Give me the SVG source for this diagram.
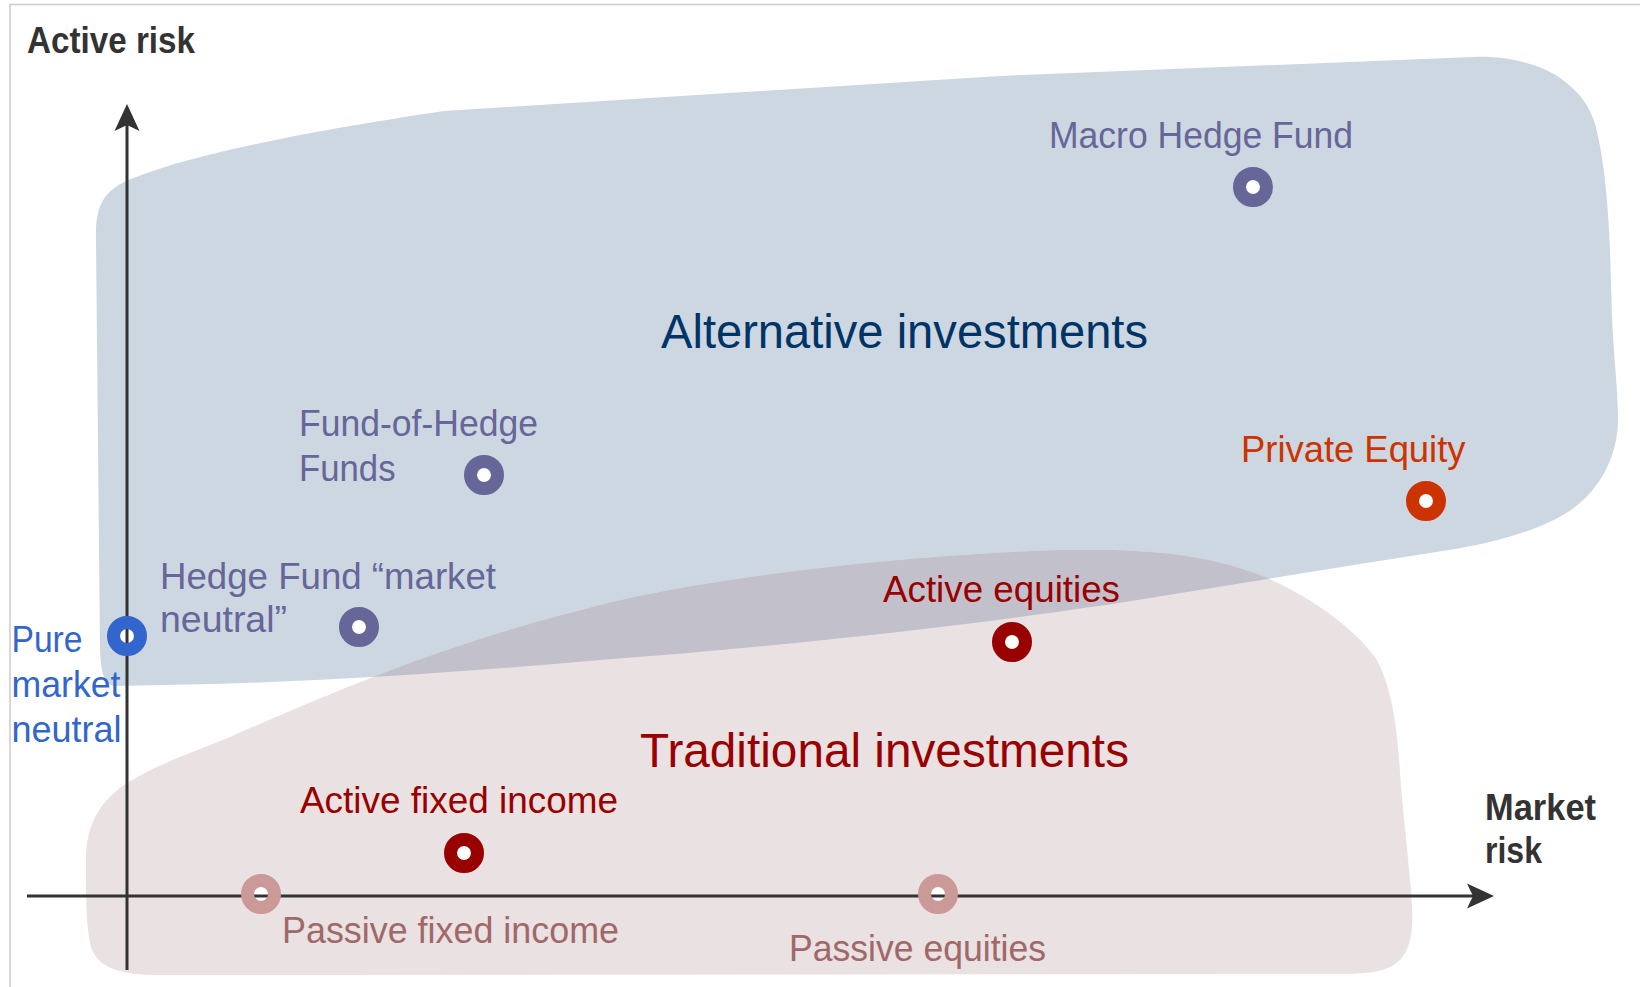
<svg xmlns="http://www.w3.org/2000/svg" xmlns:xlink="http://www.w3.org/1999/xlink" width="1640" height="987" viewBox="0 0 1640 987">
  <style>
    text { font-family: "Liberation Sans Narrow", "Liberation Sans", Arial, sans-serif; }
    .axis-title { font-size: 36px; font-weight: bold; fill: #333333; }
    .lbl { font-size: 37px; }
    .big { font-size: 48px; }
    .purple { fill: #666699; }
    .navy { fill: #003366; }
    .red { fill: #990000; }
    .orange { fill: #cc3300; }
    .blue { fill: #3366cc; }
    .passive { fill: #a06868; }
    .axis { stroke: #333333; stroke-width: 3; fill: none; }
    .head { fill: #333333; }
    .hole { fill: #ffffff; }
    .ring { fill: none; stroke-width: 13; }
  </style>
  <defs>
    <path id="alt-shape" d="M 96,240 C 95,205 104,192 126,181 C 175,160 270,137 444,111 L 1000,76 L 1473,57 C 1510,55 1545,66 1563,80 C 1580,93 1590,106 1596,127 C 1605,165 1608,205 1610,250 L 1612,317 C 1614,360 1618,390 1618,420 C 1618,455 1600,490 1571,510 C 1545,528 1500,542 1449,550 L 1360,564 L 1150,598 C 1000,622 800,645 600,660 C 450,673 300,684 115,686 C 103,684 101,670 100,650 Z"/>
    <path id="trad-shape" d="M 86,860 C 86,828 97,803 127,783 C 165,760 200,750 230,737 C 280,715 320,698 358,683 C 440,650 520,625 600,605 C 700,580 880,556 1060,550 C 1150,548 1205,555 1255,573 C 1305,592 1355,628 1377,660 C 1395,695 1398,740 1401,787 L 1410,880 C 1414,920 1414,945 1400,960 C 1388,972 1370,973 1350,974 L 160,975 C 120,975 100,968 92,950 C 86,930 86,900 86,860 Z"/>
    <clipPath id="trad-clip"><use xlink:href="#trad-shape"/></clipPath>
  </defs>

  <rect width="1640" height="987" fill="#ffffff"/>
  <path d="M 10,987 L 10,4.5 L 1640,4.5" fill="none" stroke="#cccccc" stroke-width="1.5"/>

  <!-- region blobs -->
  <g id="alternative-investments">
    <use xlink:href="#alt-shape" fill="#cdd7e1"/>
  </g>
  <g id="traditional-investments">
    <use xlink:href="#trad-shape" fill="#eae1e2"/>
    <use xlink:href="#alt-shape" fill="#c2c1cb" clip-path="url(#trad-clip)"/>
  </g>

  <!-- white centres of the markers sit under the axes -->
  <g id="marker-holes">
    <circle class="hole" cx="1253" cy="187" r="7"/>
    <circle class="hole" cx="484" cy="475" r="7"/>
    <circle class="hole" cx="359" cy="627" r="7"/>
    <circle class="hole" cx="127" cy="636" r="7"/>
    <circle class="hole" cx="1426" cy="501" r="7"/>
    <circle class="hole" cx="1012" cy="642" r="7"/>
    <circle class="hole" cx="464" cy="853" r="7"/>
    <circle class="hole" cx="261" cy="894" r="7"/>
    <circle class="hole" cx="938" cy="894" r="7"/>
  </g>

  <!-- axes -->
  <g id="connectors">
    <line class="axis" x1="127" y1="970" x2="127" y2="118"/>
    <path class="head" d="M 127,104 L 114.5,131 L 127,125 L 139.5,131 Z"/>
    <line class="axis" x1="27" y1="896" x2="1480" y2="896"/>
    <path class="head" d="M 1494,896 L 1467,883.5 L 1473,896 L 1467,908.5 Z"/>
  </g>

  <g id="axis-active-risk">
    <text class="axis-title" x="27" y="52.5" textLength="168" lengthAdjust="spacingAndGlyphs">Active risk</text>
  </g>
  <g id="axis-market-risk">
    <text class="axis-title" x="1485" y="820" textLength="111" lengthAdjust="spacingAndGlyphs">Market</text>
    <text class="axis-title" x="1485" y="863" textLength="57" lengthAdjust="spacingAndGlyphs">risk</text>
  </g>

  <g id="label-alternative">
    <text class="big navy" x="661" y="347.5" textLength="487" lengthAdjust="spacingAndGlyphs">Alternative investments</text>
  </g>
  <g id="label-traditional">
    <text class="big red" x="640" y="767" textLength="489" lengthAdjust="spacingAndGlyphs">Traditional investments</text>
  </g>

  <g id="macro-hedge-fund">
    <circle class="ring" stroke="#666699" cx="1253" cy="187" r="13.5"/>
    <text class="lbl purple" x="1049" y="147.5" textLength="304" lengthAdjust="spacingAndGlyphs">Macro Hedge Fund</text>
  </g>

  <g id="fund-of-hedge-funds">
    <circle class="ring" stroke="#666699" cx="484" cy="475" r="13.5"/>
    <text class="lbl purple" x="299" y="435.7" textLength="239" lengthAdjust="spacingAndGlyphs">Fund-of-Hedge</text>
    <text class="lbl purple" x="299" y="480.7" textLength="96.5" lengthAdjust="spacingAndGlyphs">Funds</text>
  </g>

  <g id="hedge-fund-market-neutral">
    <circle class="ring" stroke="#666699" cx="359" cy="627" r="13.5"/>
    <text class="lbl purple" x="160" y="589" textLength="336" lengthAdjust="spacingAndGlyphs">Hedge Fund “market</text>
    <text class="lbl purple" x="160" y="632.3" textLength="127" lengthAdjust="spacingAndGlyphs">neutral”</text>
  </g>

  <g id="pure-market-neutral">
    <circle class="ring" stroke="#3366cc" cx="127" cy="636" r="13.5"/>
    <text class="lbl blue" x="11.5" y="652.3" textLength="71" lengthAdjust="spacingAndGlyphs">Pure</text>
    <text class="lbl blue" x="11.5" y="697.3" textLength="109" lengthAdjust="spacingAndGlyphs">market</text>
    <text class="lbl blue" x="11.5" y="741.7" textLength="110" lengthAdjust="spacingAndGlyphs">neutral</text>
  </g>

  <g id="private-equity">
    <circle class="ring" stroke="#cc3300" cx="1426" cy="501" r="13.5"/>
    <text class="lbl orange" x="1241" y="461.7" textLength="224.5" lengthAdjust="spacingAndGlyphs">Private Equity</text>
  </g>

  <g id="active-equities">
    <circle class="ring" stroke="#990000" cx="1012" cy="642" r="13.5"/>
    <text class="lbl red" x="883" y="601.7" textLength="237" lengthAdjust="spacingAndGlyphs">Active equities</text>
  </g>

  <g id="active-fixed-income">
    <circle class="ring" stroke="#990000" cx="464" cy="853" r="13.5"/>
    <text class="lbl red" x="300" y="812.7" textLength="318" lengthAdjust="spacingAndGlyphs">Active fixed income</text>
  </g>

  <g id="passive-fixed-income">
    <circle class="ring" stroke="#cc9999" cx="261" cy="894" r="13.5"/>
    <text class="lbl passive" x="282" y="943.3" textLength="337" lengthAdjust="spacingAndGlyphs">Passive fixed income</text>
  </g>

  <g id="passive-equities">
    <circle class="ring" stroke="#cc9999" cx="938" cy="894" r="13.5"/>
    <text class="lbl passive" x="789" y="960.7" textLength="257" lengthAdjust="spacingAndGlyphs">Passive equities</text>
  </g>
</svg>
